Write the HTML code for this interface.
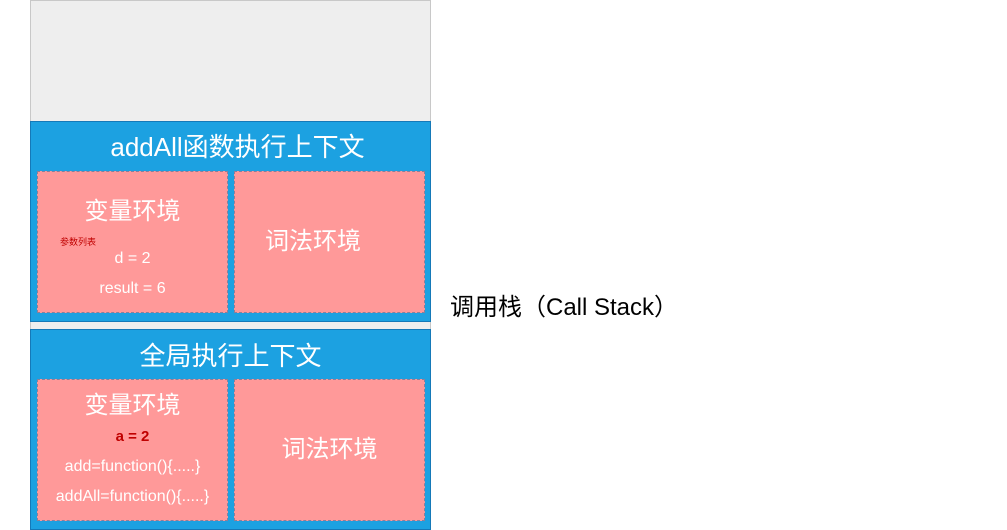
<!DOCTYPE html>
<html><head><meta charset="utf-8"><style>
body{margin:0;width:1007px;height:530px;background:#fff;position:relative;overflow:hidden;font-family:"Liberation Sans","Noto Sans CJK SC",sans-serif}
div{position:absolute;box-sizing:border-box}
.t{white-space:nowrap;text-align:center;color:#fff;line-height:1}
.blue{background:#1ca1e1;border:1px solid #1579b8}
.pink{background:#ff9999;border:1px dashed #8a7f9a}
</style></head><body>
<div style="left:30px;top:0;width:401px;height:530px;background:#eeeeee;border:1px solid #c8c8c8"></div>
<div class="blue" style="left:30px;top:121px;width:401px;height:201px"></div>
<div class="blue" style="left:30px;top:329px;width:401px;height:201px"></div>
<div class="pink" style="left:37px;top:171px;width:191px;height:142px"></div>
<div class="pink" style="left:234px;top:171px;width:191px;height:142px"></div>
<div class="pink" style="left:37px;top:379px;width:191px;height:142px"></div>
<div class="pink" style="left:234px;top:379px;width:191px;height:142px"></div>

<div class="t" style="left:37px;width:401px;top:134px;font-size:26px">addAll函数执行上下文</div>
<div class="t" style="left:37px;width:191px;top:200px;font-size:24px">变量环境</div>
<div class="t" style="left:265px;top:230px;font-size:24px;text-align:left">词法环境</div>
<div class="t" style="left:60px;top:238px;font-size:9px;color:#c00000;text-align:left">参数列表</div>
<div class="t" style="left:37px;width:191px;top:251px;font-size:16px">d = 2</div>
<div class="t" style="left:37px;width:191px;top:281px;font-size:16px">result = 6</div>

<div class="t" style="left:30px;width:401px;top:343px;font-size:26px">全局执行上下文</div>
<div class="t" style="left:37px;width:191px;top:394px;font-size:24px">变量环境</div>
<div class="t" style="left:37px;width:191px;top:429px;font-size:15px;font-weight:bold;color:#c00000">a = 2</div>
<div class="t" style="left:37px;width:191px;top:459px;font-size:16px">add=function(){.....}</div>
<div class="t" style="left:37px;width:191px;top:489px;font-size:16px">addAll=function(){.....}</div>
<div class="t" style="left:234px;width:191px;top:438px;font-size:24px">词法环境</div>

<div class="t" style="left:450px;top:296px;font-size:24px;color:#000;text-align:left">调用栈（Call Stack）</div>
</body></html>
